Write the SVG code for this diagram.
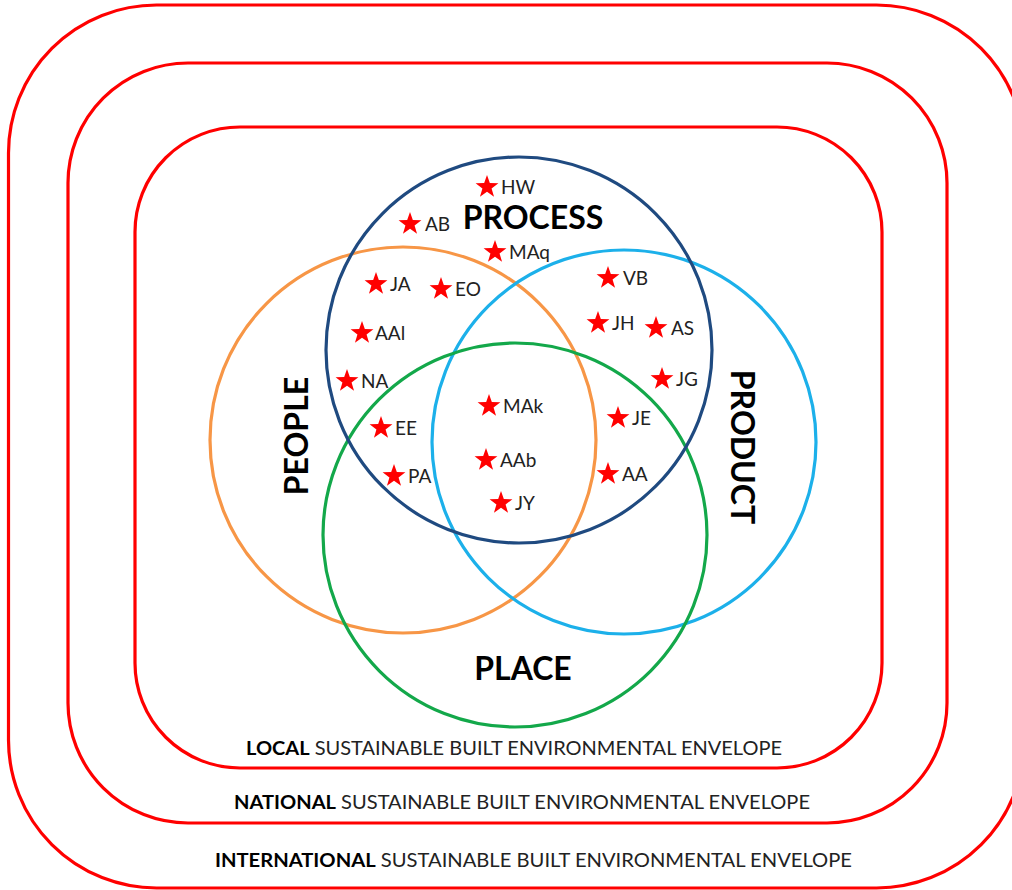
<svg xmlns="http://www.w3.org/2000/svg" xmlns:xlink="http://www.w3.org/1999/xlink" width="1012" height="890" viewBox="0 0 1012 890">
<style>
.env{fill:none;stroke:#ff0000;stroke-width:3.2}
.c{fill:none;stroke-width:3.2}
.big{font-family:Lato,"Open Sans",sans-serif;font-weight:bold;font-size:32px;fill:#000}
.lbl{font-family:Lato,"Open Sans",sans-serif;font-size:19px;fill:#222}
.foot{font-family:Lato,"Open Sans",sans-serif;font-size:19.5px;fill:#222}
.foot .b{font-weight:bold;fill:#000}
.star{fill:#ff0000}
</style>
<defs>
<polygon id="star" class="star" points="0,-12 2.82,-3.88 11.41,-3.71 4.57,1.48 7.05,9.71 0,4.8 -7.05,9.71 -4.57,1.48 -11.41,-3.71 -2.82,-3.88"/>
</defs>
<rect width="1012" height="890" fill="#fff"/>
<g id="international">
<rect class="env" x="8.5" y="5" width="1016" height="883" rx="148" ry="148"/>
<text class="foot" x="215" y="867" textLength="637" lengthAdjust="spacingAndGlyphs"><tspan class="b">INTERNATIONAL</tspan> SUSTAINABLE BUILT ENVIRONMENTAL ENVELOPE</text>
</g>
<g id="national">
<rect class="env" x="68" y="63" width="879" height="760" rx="120" ry="120"/>
<text class="foot" x="234" y="809" textLength="576" lengthAdjust="spacingAndGlyphs"><tspan class="b">NATIONAL</tspan> SUSTAINABLE BUILT ENVIRONMENTAL ENVELOPE</text>
</g>
<g id="local">
<rect class="env" x="135" y="127" width="747" height="641" rx="105" ry="105"/>
<text class="foot" x="246" y="755" textLength="536" lengthAdjust="spacingAndGlyphs"><tspan class="b">LOCAL</tspan> SUSTAINABLE BUILT ENVIRONMENTAL ENVELOPE</text>
</g>
<g id="people">
<circle class="c" cx="403" cy="440" r="193" stroke="#f79646"/>
<text class="big" transform="translate(308,436) rotate(-90)" text-anchor="middle">PEOPLE</text>
</g>
<g id="product">
<circle class="c" cx="624" cy="442" r="192" stroke="#1cb0ea"/>
<text class="big" transform="translate(731,447) rotate(90)" text-anchor="middle">PRODUCT</text>
</g>
<g id="place">
<circle class="c" cx="515" cy="535" r="192" stroke="#13a84a"/>
<text class="big" x="523" y="680" text-anchor="middle">PLACE</text>
</g>
<g id="process">
<circle class="c" cx="519" cy="350" r="193" stroke="#1f4a80"/>
<text class="big" x="533" y="229" text-anchor="middle">PROCESS</text>
</g>
<g id="markers">
<g id="m-HW"><use href="#star" x="487" y="187"/><text class="lbl" x="501" y="194">HW</text></g>
<g id="m-AB"><use href="#star" x="410" y="224"/><text class="lbl" x="425" y="231">AB</text></g>
<g id="m-MAq"><use href="#star" x="495" y="252"/><text class="lbl" x="509" y="259">MAq</text></g>
<g id="m-JA"><use href="#star" x="376" y="284"/><text class="lbl" x="390" y="291">JA</text></g>
<g id="m-EO"><use href="#star" x="441" y="289"/><text class="lbl" x="455" y="296">EO</text></g>
<g id="m-AAl"><use href="#star" x="362" y="333"/><text class="lbl" x="375" y="340">AAl</text></g>
<g id="m-NA"><use href="#star" x="347" y="381"/><text class="lbl" x="361" y="388">NA</text></g>
<g id="m-EE"><use href="#star" x="381" y="428"/><text class="lbl" x="395" y="435">EE</text></g>
<g id="m-PA"><use href="#star" x="394" y="476"/><text class="lbl" x="408" y="483">PA</text></g>
<g id="m-MAk"><use href="#star" x="489" y="406"/><text class="lbl" x="503" y="413">MAk</text></g>
<g id="m-AAb"><use href="#star" x="486" y="460"/><text class="lbl" x="500" y="467">AAb</text></g>
<g id="m-JY"><use href="#star" x="501" y="503"/><text class="lbl" x="515" y="510">JY</text></g>
<g id="m-VB"><use href="#star" x="608" y="278"/><text class="lbl" x="623" y="285">VB</text></g>
<g id="m-JH"><use href="#star" x="598" y="323"/><text class="lbl" x="612" y="330">JH</text></g>
<g id="m-AS"><use href="#star" x="656" y="328"/><text class="lbl" x="671" y="335">AS</text></g>
<g id="m-JG"><use href="#star" x="662" y="379"/><text class="lbl" x="676" y="386">JG</text></g>
<g id="m-JE"><use href="#star" x="618" y="418"/><text class="lbl" x="632" y="425">JE</text></g>
<g id="m-AA"><use href="#star" x="608" y="474"/><text class="lbl" x="622" y="481">AA</text></g>
</g>
</svg>
